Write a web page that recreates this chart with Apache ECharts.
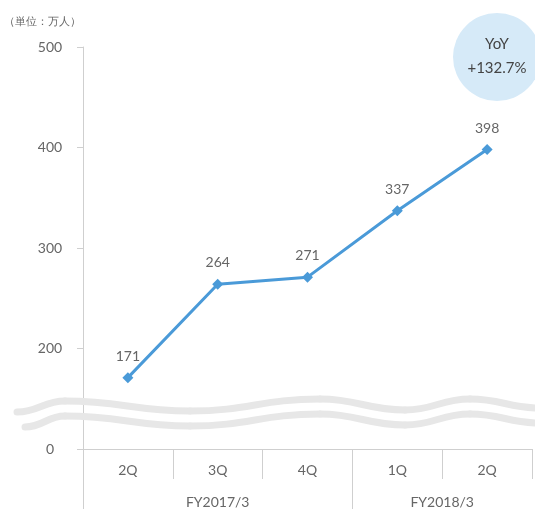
<!DOCTYPE html>
<html>
<head>
<meta charset="utf-8">
<script src="https://cdn.jsdelivr.net/npm/echarts@6/dist/echarts.min.js"></script>
<style>
  html, body { margin: 0; padding: 0; background: #fff; }
  #chart { width: 535px; height: 509px; }
</style>
</head>
<body>
<div id="chart"></div>
<script>
// Quarterly users (unit: 10,000 people)
const quarters = ['2Q', '3Q', '4Q', '1Q', '2Q'];
const users = [171, 264, 271, 337, 398];
// Fiscal-year group labels, placed on a half-step axis under the quarters
const fiscalYears = ['', '', '', 'FY2017/3', '', '', '', '', 'FY2018/3', '', ''];
const yTicks = [100, 200, 300, 400, 500];   // lowest tick is shown as 0 (broken axis)
const unitText = '（単位：万人）';
const yoyText = ['YoY', '+132.7%'];

const FONT = 'Lato, "Noto Sans", sans-serif';
const GREY = '#cfcfcf';
const TEXT = '#666';

// Wavy "axis break" band drawn across the chart, built from cubic segments
function waveSegments(pts) {
  const out = [];
  for (let i = 1; i < pts.length; i++) {
    const [x0, y0] = pts[i - 1];
    const [x1, y1] = pts[i];
    const k = (x1 - x0) * 0.45;
    out.push({
      type: 'bezierCurve', z: 1, silent: true,
      shape: { x1: x0, y1: y0, cpx1: x0 + k, cpy1: y0, cpx2: x1 - k, cpy2: y1, x2: x1, y2: y1 },
      style: { fill: null, stroke: '#e7e7e7', lineWidth: 7, lineCap: 'round' }
    });
  }
  return out;
}
const waveUpper = [[17, 412], [65, 401], [190, 411], [320, 399], [405, 410], [470, 399], [540, 408]];
const waveLower = waveUpper.map(([x, y], i) => [i === 0 ? 25 : x, y + 15]);

const chart = echarts.init(document.getElementById('chart'));
chart.setOption({
  animation: false,
  grid: { left: 83, right: 0, top: 47, bottom: 58, containLabel: false },
  xAxis: [
    {
      type: 'category',
      data: quarters,
      boundaryGap: true,
      axisLine: { lineStyle: { color: GREY, width: 1 } },
      axisTick: { show: true, interval: 0, length: 30, lineStyle: { color: GREY } },
      axisLabel: { color: TEXT, fontSize: 14, fontFamily: FONT, margin: 14 }
    },
    {
      type: 'category',
      data: fiscalYears,
      position: 'bottom',
      boundaryGap: false,
      axisLine: { show: false },
      axisTick: {
        show: true,
        interval: function (index) { return index === 0 || index === 6; },
        length: 60,
        lineStyle: { color: GREY }
      },
      axisLabel: { interval: 0, color: TEXT, fontSize: 14, fontFamily: FONT, margin: 46 }
    }
  ],
  yAxis: {
    type: 'value',
    min: 100,
    max: 500,
    interval: 100,
    axisLine: { show: true, lineStyle: { color: GREY } },
    axisTick: { show: true, length: 6, lineStyle: { color: GREY } },
    splitLine: { show: false },
    axisLabel: {
      color: TEXT, fontSize: 14, fontFamily: FONT, align: 'center', margin: 33,
      formatter: function (v) { return v === yTicks[0] ? '0' : String(v); }
    }
  },
  series: [{
    type: 'line',
    xAxisIndex: 0,
    data: users,
    symbol: 'diamond',
    symbolSize: 11,
    lineStyle: { color: '#4a9ad8', width: 3 },
    itemStyle: { color: '#4a9ad8' },
    label: {
      show: true, position: 'top', distance: 9,
      color: TEXT, fontSize: 14, fontFamily: FONT
    },
    z: 5
  }],
  graphic: [
    {
      type: 'text', x: 4, y: 16, z: 10,
      style: { text: unitText, fill: TEXT, font: '11px ' + FONT }
    }
  ].concat(waveSegments(waveUpper), waveSegments(waveLower), [
    {
      type: 'circle', z: 1, silent: true,
      shape: { cx: 497, cy: 57, r: 44 },
      style: { fill: '#d6eaf8' }
    },
    {
      type: 'text', z: 2, x: 497, y: 44,
      style: { text: yoyText[0], fill: '#444', font: '15px ' + FONT, align: 'center', verticalAlign: 'middle' }
    },
    {
      type: 'text', z: 2, x: 497, y: 68,
      style: { text: yoyText[1], fill: '#444', font: '15px ' + FONT, align: 'center', verticalAlign: 'middle' }
    }
  ])
});
</script>
</body>
</html>
